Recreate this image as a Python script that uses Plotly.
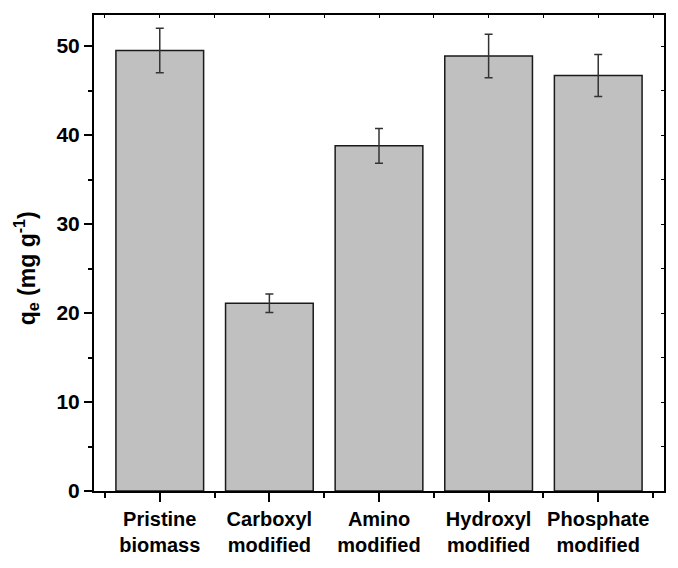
import plotly.graph_objects as go

# Adsorption capacity of pristine and functional-group-modified biomass
categories = ["Pristine<br>biomass", "Carboxyl<br>modified", "Amino<br>modified",
              "Hydroxyl<br>modified", "Phosphate<br>modified"]
qe_values = [49.5, 21.1, 38.8, 48.9, 46.7]
qe_errors = [2.5, 1.05, 1.95, 2.45, 2.35]

y_major_ticks = [0, 10, 20, 30, 40, 50]
y_minor_ticks = [5, 15, 25, 35, 45]
y_title = "q<sub>e</sub> (mg g<sup>-1</sup>)"

positions = list(range(len(categories)))
boundaries = [p - 0.5 for p in positions] + [positions[-1] + 0.5]
x_range = [-0.6, len(categories) - 0.4]
y_range = [0, 53.5]

font_family = "Arial, Liberation Sans, sans-serif"

fig = go.Figure()
fig.add_trace(go.Bar(
    x=positions,
    y=qe_values,
    width=0.8,
    marker=dict(color="#c0c0c0", line=dict(color="#1a1a1a", width=1.5)),
    error_y=dict(type="data", array=qe_errors, visible=True,
                 color="#333333", thickness=1.5, width=4),
    showlegend=False,
))
# invisible helper trace so the top/right tick axes are drawn
fig.add_trace(go.Scatter(x=[x_range[0]], y=[y_range[0]], xaxis="x2", yaxis="y2",
                         mode="markers", marker=dict(opacity=0), showlegend=False,
                         hoverinfo="skip"))

fig.update_layout(
    width=678, height=568,
    margin=dict(l=94, r=12, t=15, b=67),
    paper_bgcolor="white", plot_bgcolor="white",
    font=dict(family=font_family, color="black"),
    bargap=0.2,
    xaxis=dict(
        range=x_range, tickmode="array", tickvals=positions, ticktext=categories,
        ticks="outside", ticklen=9, tickwidth=1.5, tickcolor="black",
        minor=dict(tickmode="array", tickvals=boundaries, ticks="outside",
                   ticklen=5, tickwidth=1.5, tickcolor="black"),
        showline=True, linecolor="black", linewidth=2, mirror=True,
        showgrid=False, zeroline=False,
        tickfont=dict(size=20, weight="bold", family=font_family),
    ),
    yaxis=dict(
        range=y_range, tickmode="array", tickvals=y_major_ticks,
        ticks="outside", ticklen=8, tickwidth=1.5, tickcolor="black",
        minor=dict(tickmode="array", tickvals=y_minor_ticks, ticks="outside",
                   ticklen=4, tickwidth=1.5, tickcolor="black"),
        showline=True, linecolor="black", linewidth=2, mirror=True,
        showgrid=False, zeroline=False,
        tickfont=dict(size=21, weight="bold", family=font_family),
    ),
    xaxis2=dict(
        overlaying="x", side="top", range=x_range, tickmode="array",
        tickvals=sorted(positions + boundaries), showticklabels=False,
        ticks="inside", ticklen=3, tickwidth=1, tickcolor="black",
        showline=False, showgrid=False, zeroline=False,
    ),
    yaxis2=dict(
        overlaying="y", side="right", range=y_range, tickmode="array",
        tickvals=y_major_ticks + y_minor_ticks, showticklabels=False,
        ticks="inside", ticklen=3, tickwidth=1, tickcolor="black",
        showline=False, showgrid=False, zeroline=False,
    ),
    annotations=[dict(
        text=y_title, textangle=-90, showarrow=False,
        xref="paper", yref="paper", x=-0.12, y=0.467,
        xanchor="center", yanchor="middle",
        font=dict(size=23, weight="bold", family=font_family),
    )],
)

fig.write_html("out.html")
